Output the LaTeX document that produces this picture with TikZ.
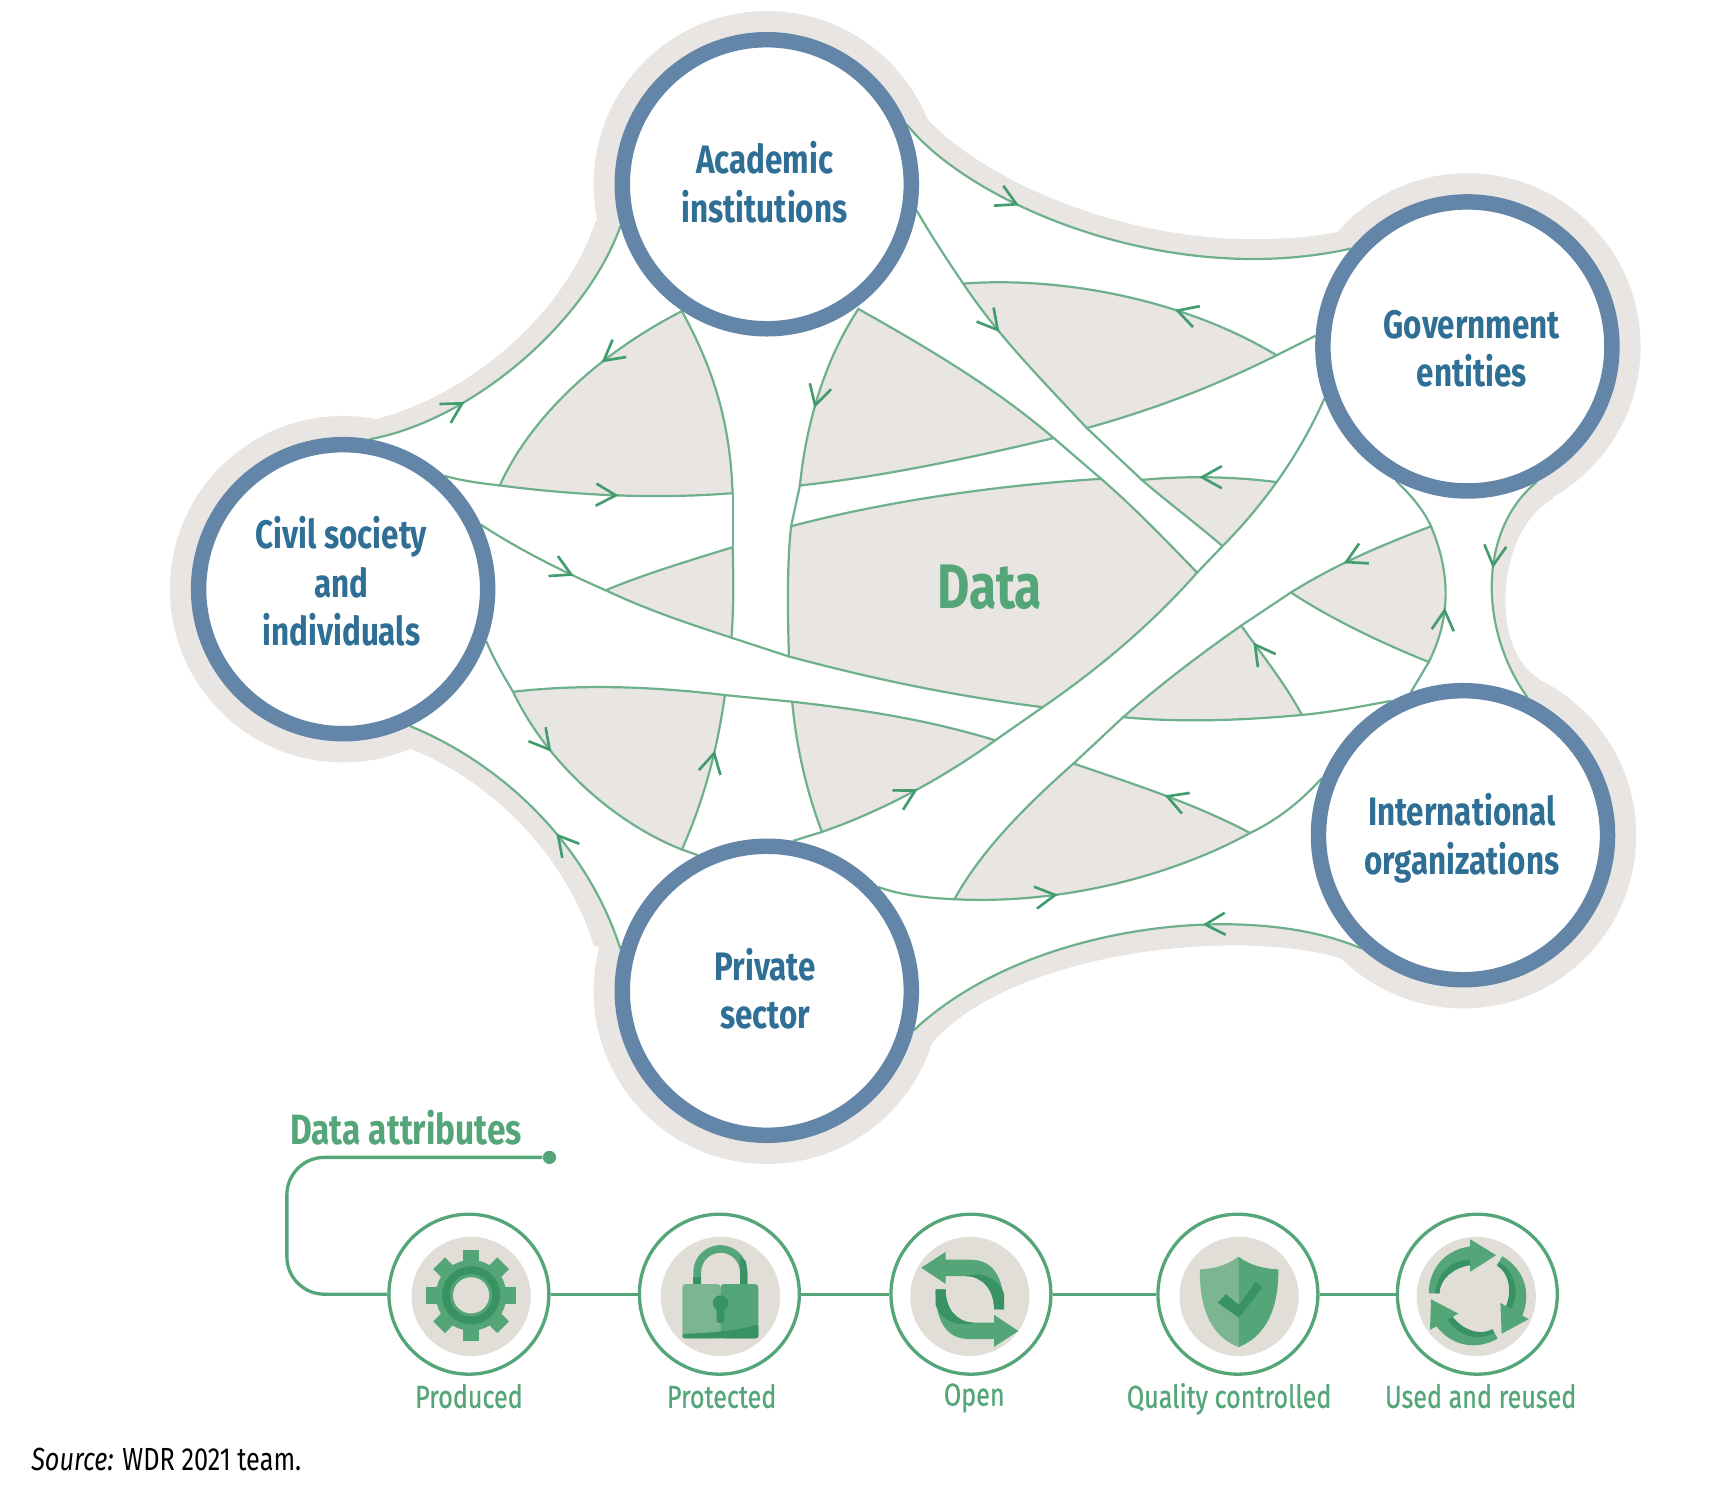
\documentclass[tikz,border=0pt]{standalone}
\usepackage{fontspec}
\usetikzlibrary{arrows.meta,backgrounds,decorations.markings}
\newfontfamily\wdrfont[FakeStretch=0.79]{Fira Sans}
\newfontfamily\wdrmedium[FakeStretch=0.79,FakeBold=0.7]{Fira Sans}

\definecolor{haloGray}{HTML}{E9E5E2}
\definecolor{discGray}{HTML}{E1DDD7}
\definecolor{ringBlue}{HTML}{6285A8}
\definecolor{textBlue}{HTML}{2F6F96}
\definecolor{lineGreen}{HTML}{6FB08C}
\definecolor{tipGreen}{HTML}{439C6E}
\definecolor{attrGreen}{HTML}{54A678}
\definecolor{iconDark}{HTML}{389263}
\definecolor{iconLight}{HTML}{7BB592}

\tikzset{
	flowtip/.tip={Straight Barb[length=9pt,width=10pt,line width=1.2pt,color=tipGreen]},
	actor/.style={circle,draw=ringBlue,line width=7pt,fill=white,minimum size=131pt,inner sep=0pt},
	actorlabel/.style={align=center,text=textBlue,inner sep=0pt,font=\wdrfont\bfseries\fontsize{18}{22}\selectfont},
	attr/.style={circle,draw=attrGreen,line width=1.5pt,fill=white,minimum size=72.5pt,inner sep=0pt},
	attrlabel/.style={anchor=base,text=attrGreen,font=\wdrmedium\fontsize{14.4}{17}\selectfont,inner sep=0pt},
	attrline/.style={draw=attrGreen,line width=1.5pt},
	flow/.style={draw=lineGreen,line width=1pt},
	lens/.style={flow,fill=haloGray},
	flowmark/.style={postaction={decorate},decoration={markings,mark=at position #1 with {\arrow{flowtip}}}},
	flowmarks/.style 2 args={postaction={decorate},decoration={markings,
		mark=at position #1 with {\arrow{flowtip}},mark=at position #2 with {\arrow{flowtip}}}},
}

\begin{document}
\begin{tikzpicture}[x=0.5pt,y=-0.5pt]
	\useasboundingbox (0,0) rectangle (1568,1364);

	% the five actors
	\node[actor] (acad) at (695,167) {};
	\node[actor] (govt) at (1330,314) {};
	\node[actor] (civil) at (311,534) {};
	\node[actor] (intl) at (1326,757) {};
	\node[actor] (priv) at (695,898) {};
	\node[actorlabel] (acadlabel) at (693,165) {Academic\\institutions};
	\node[actorlabel] (govtlabel) at (1334,316) {Government\\entities};
	\node[actorlabel] (civillabel) at (309.5,527) {Civil society\\and\\individuals};
	\node[actorlabel] (intllabel) at (1325,760) {International\\organizations};
	\node[actorlabel] (privlabel) at (693.5,896) {Private\\sector};

	\begin{pgfonlayer}{background}
	% grey halo round the whole network
	\foreach \n in {acad,govt,civil,intl,priv}
		\fill[haloGray] (\n.center) circle[radius=78.5pt];
	\fill[haloGray] (838,105) .. controls (890,165) and (1050,240) .. (1215,210) -- (govt.center)
		-- (1408,452) .. controls (1355,480) and (1350,590) .. (1395,615) -- (intl.center)
		-- (1220,870) .. controls (1130,840) and (920,860) .. (845,945) -- (priv.center)
		-- (538,857) .. controls (515,780) and (450,710) .. (373,679) -- (civil.center)
		-- (340,380) .. controls (420,360) and (510,290) .. (540,200) -- (acad.center) -- cycle;
	% white inside the outer flows
	\fill[white] (civil.80) .. controls (425,382) and (530,295) .. (acad.196) -- (acad.23)
		.. controls (880,185) and (1060,262) .. (govt.140) -- (govt.-63)
		.. controls (1340,480) and (1340,570) .. (intl.65) -- (intl.228)
		.. controls (1130,815) and (930,838) .. (priv.-15) -- (priv.164)
		.. controls (530,760) and (450,690) .. (civil.-64) -- cycle;

	% outer flows
	\draw[flow,flowmark=.30] (civil.80) .. controls (425,382) and (530,295) .. (acad.196);
	\draw[flow,flowmark=.29] (acad.23) .. controls (880,185) and (1060,262) .. (govt.140);
	\draw[flow,flowmark=.42] (govt.-63) .. controls (1340,480) and (1340,570) .. (intl.65);
	\draw[flow,flowmark=.34] (intl.228) .. controls (1130,815) and (930,838) .. (priv.-15);
	\draw[flow,flowmark=.42] (priv.164) .. controls (530,760) and (450,690) .. (civil.-64);

	% grey lenses, top left to bottom right
	\draw[lens,flowmarks={.14}{.552}] (618,282) .. controls (540,322) and (480,380) .. (453,440)
		.. controls (530,450) and (600,452) .. (664,447) .. controls (662,390) and (650,340) .. (618,282) -- cycle;
	\draw[lens,flowmark=.16] (778,280) .. controls (745,330) and (730,390) .. (725,440)
		.. controls (800,432) and (880,415) .. (955,397) .. controls (900,350) and (840,315) .. (778,280) -- cycle;
	\draw[lens,flowmarks={.155}{.537}] (1157,322) .. controls (1080,275) and (970,250) .. (873,257)
		.. controls (905,305) and (945,345) .. (985,388) .. controls (1050,370) and (1105,348) .. (1157,322) -- cycle;
	\draw[lens] (549,535) .. controls (585,520) and (625,508) .. (664,496)
		.. controls (665,525) and (665,550) .. (663,578) .. controls (620,564) and (585,552) .. (549,535) -- cycle;
	\draw[lens] (717,477) .. controls (800,455) and (900,440) .. (998,434)
		.. controls (1028,460) and (1055,488) .. (1085,519) .. controls (1040,570) and (990,610) .. (945,641)
		.. controls (860,630) and (790,615) .. (715,595) .. controls (714,555) and (713,515) .. (717,477) -- cycle;
	\draw[lens,flowmark=.24] (1157,437) .. controls (1120,432) and (1075,431) .. (1035,435)
		.. controls (1058,455) and (1085,475) .. (1108,495) .. controls (1125,478) and (1142,458) .. (1157,437) -- cycle;
	\draw[lens,flowmarks={.117}{.559}] (465,627) .. controls (495,690) and (555,745) .. (618,770)
		.. controls (638,725) and (650,680) .. (657,630) .. controls (590,622) and (525,620) .. (465,627) -- cycle;
	\draw[lens,flowmark=.195] (745,754) .. controls (800,735) and (855,705) .. (902,671)
		.. controls (840,652) and (780,643) .. (718,636) .. controls (722,680) and (732,720) .. (745,754) -- cycle;
	\draw[lens,flowmarks={.153}{.59}] (865,815) .. controls (960,820) and (1060,795) .. (1133,755)
		.. controls (1080,727) and (1025,710) .. (973,692) .. controls (930,730) and (890,770) .. (865,815) -- cycle;
	\draw[lens,flowmarks={.47}{.866}] (1170,537) .. controls (1205,560) and (1250,582) .. (1295,600)
		.. controls (1315,560) and (1315,520) .. (1297,477) .. controls (1250,495) and (1210,512) .. (1170,537) -- cycle;
	\draw[lens,flowmark=.2] (1180,648) .. controls (1165,620) and (1145,595) .. (1125,567)
		.. controls (1085,595) and (1050,622) .. (1018,650) .. controls (1070,655) and (1125,653) .. (1180,648) -- cycle;

	% short pieces between the lenses and the actors
	\draw[flow] (civil.48) .. controls (420,436) and (436,438) .. (453,440);
	\draw[flow,flowmark=.75] (civil.25) .. controls (470,498) and (510,518) .. (549,535);
	\draw[flow] (civil.-20) .. controls (448,598) and (456,612) .. (465,627);
	\draw[flow] (664,447) -- (664,496);
	\draw[flow] (725,440) -- (717,477);
	\draw[flow] (663,578) -- (715,595);
	\draw[flow] (657,630) -- (718,636);
	\draw[flow] (618,770) -- (priv.117);
	\draw[flow] (priv.80) -- (745,754);
	\draw[flow] (priv.43) .. controls (815,811) and (840,814) .. (865,815);
	\draw[flow] (acad.-10) .. controls (843,212) and (858,235) .. (873,257);
	\draw[flow] (985,388) -- (1035,435);
	\draw[flow] (955,397) -- (998,434);
	\draw[flow] (1108,495) -- (1085,519);
	\draw[flow] (945,641) -- (902,671);
	\draw[flow] (govt.176) -- (1157,322);
	\draw[flow] (govt.200) .. controls (1190,385) and (1175,412) .. (1157,437);
	\draw[flow] (govt.242) .. controls (1280,450) and (1290,462) .. (1297,477);
	\draw[flow] (1295,600) -- (intl.110);
	\draw[flow] (1180,648) .. controls (1210,645) and (1235,640) .. (intl.118);
	\draw[flow] (1133,755) .. controls (1160,742) and (1180,725) .. (intl.158);
	\draw[flow] (1170,537) -- (1125,567);
	\draw[flow] (1018,650) -- (973,692);
	\end{pgfonlayer}

	% the centre
	\node[text=attrGreen,font=\wdrfont\bfseries\fontsize{28.5}{32}\selectfont] (data) at (897,532) {Data};

	% data attributes
	\node[text=attrGreen,font=\wdrfont\bfseries\fontsize{19.2}{22}\selectfont,inner sep=0pt] (attrtitle) at (368,1022) {Data attributes};
	\node[circle,fill=attrGreen,minimum size=6pt,inner sep=0pt] (attrdot) at (498,1049) {};
	\node[attr] (prod) at (425,1173) {};
	\node[attr] (prot) at (652,1173) {};
	\node[attr] (open) at (880,1173) {};
	\node[attr] (qual) at (1122,1173) {};
	\node[attr] (used) at (1339,1173) {};
	\coordinate (turnA) at (260,1049);
	\coordinate (turnB) at (260,1173);
	\draw[attrline,rounded corners=17pt] (attrdot) -- (turnA) -- (turnB) -- (prod);
	\draw[attrline] (prod) -- (prot);
	\draw[attrline] (prot) -- (open);
	\draw[attrline] (open) -- (qual);
	\draw[attrline] (qual) -- (used);

	\node[attrlabel] (prodlabel) at (425,1276) {Produced};
	\node[attrlabel] (protlabel) at (654,1276) {Protected};
	\node[attrlabel] (openlabel) at (883,1274) {Open};
	\node[attrlabel] (quallabel) at (1114,1276) {Quality controlled};
	\node[attrlabel] (usedlabel) at (1342,1276) {Used and reused};

	% grey discs behind the icons
	\fill[discGray] (427,1175) circle[radius=27pt];
	\fill[discGray] (653,1175) circle[radius=27pt];
	\fill[discGray] (879,1175) circle[radius=27pt];
	\fill[discGray] (1123,1175) circle[radius=27pt];
	\fill[discGray] (1338,1175) circle[radius=27pt];

	% gear
	\begin{scope}[shift={(427,1174)}]
		\foreach \a in {0,45,...,315}
			\fill[attrGreen,rotate=\a] (-7.5,-41) rectangle (7.5,-25);
		\fill[attrGreen] (0,0) circle[radius=16pt];
		\fill[iconDark] (0,0) circle[radius=13.2pt];
		\fill[attrGreen] (0,0) circle[radius=9.6pt];
		\fill[discGray] (0,0) circle[radius=8.2pt];
	\end{scope}

	% lock
	\fill[attrGreen] (628.4,1164) -- (628.4,1153) arc[start angle=180,end angle=360,radius=24.5] -- (677.3,1164) -- (670.7,1164)
		-- (670.7,1153) arc[start angle=360,end angle=180,radius=17.6] -- (635.4,1164) -- cycle;
	\fill[iconDark] (628.4,1157) rectangle (635.4,1164);
	\fill[iconDark] (670.7,1139) -- (676,1143) -- (677.3,1153) -- (677.3,1164) -- (670.7,1164) -- cycle;
	\fill[iconLight,rounded corners=1.5pt] (618.4,1163.8) rectangle (653,1213);
	\fill[attrGreen,rounded corners=1.5pt] (653,1163.8) rectangle (687.3,1213);
	\fill[iconDark,rounded corners=1pt] (618.4,1209) .. controls (645,1208) and (670,1206) .. (687.3,1200) -- (687.3,1213) -- (618.4,1213) -- cycle;
	\fill[iconDark] (653,1181) circle[radius=3.5pt];
	\fill[iconDark,rounded corners=1pt] (649.5,1183) rectangle (656.5,1199);

	% open, two arrows turned by half a circle
	\begin{scope}[shift={(879,1177.7)}]
		\foreach \a in {0,180} {
			\begin{scope}[rotate=\a]
				\fill[attrGreen] (-44,-28.7) -- (-22,-43) -- (-22,-36) -- (0,-36) .. controls (20,-36) and (31,-22) .. (31,9)
					-- (22,9) .. controls (22,-8) and (12,-21) .. (0,-21) -- (-22,-21) -- (-22,-14) -- cycle;
				\fill[iconDark] (-4,-21) .. controls (12,-21) and (22,-8) .. (22,9) -- (31,9) -- (31,-5) .. controls (27,-18) and (12,-26) .. (-4,-21) -- cycle;
			\end{scope}
		}
	\end{scope}

	% shield
	\fill[iconLight] (1122.5,1139) .. controls (1112,1147) and (1100,1150) .. (1087.5,1150.5)
		.. controls (1087,1190) and (1100,1212) .. (1122.5,1221) -- cycle;
	\fill[attrGreen] (1122.5,1139) .. controls (1133,1147) and (1146,1150) .. (1158.6,1150.5)
		.. controls (1159,1190) and (1145,1212) .. (1122.5,1221) -- cycle;
	\fill[iconDark] (1103.7,1180.7) -- (1111,1172.9) -- (1123,1182.8) -- (1138,1161.7) -- (1144.3,1166.8) -- (1123,1194.3) -- cycle;

	% used and reused, three arrows turned by a third of a circle
	\begin{scope}[shift={(1338,1174.7)}]
		\foreach \a in {0,120,240} {
			\begin{scope}[rotate=\a]
				\fill[attrGreen] (-43,-2.4) .. controls (-43,-25) and (-28,-42) .. (-5.6,-45) -- (-5.6,-51.6) -- (18,-37) -- (-5.6,-22) -- (-5.6,-28)
					.. controls (-20,-26) and (-33,-16) .. (-33.4,-2.4) -- cycle;
				\fill[iconDark] (-37,-2.4) .. controls (-37,-18) and (-24,-33) .. (-5.6,-33) -- (-5.6,-28) .. controls (-20,-26) and (-33,-16) .. (-33.4,-2.4) -- cycle;
			\end{scope}
		}
	\end{scope}

	% source line
	\node[anchor=west,inner sep=0pt,font=\wdrfont\fontsize{14.5}{17}\selectfont] (source) at (28,1323) {\textit{Source:} WDR 2021 team.};
\end{tikzpicture}
\end{document}
